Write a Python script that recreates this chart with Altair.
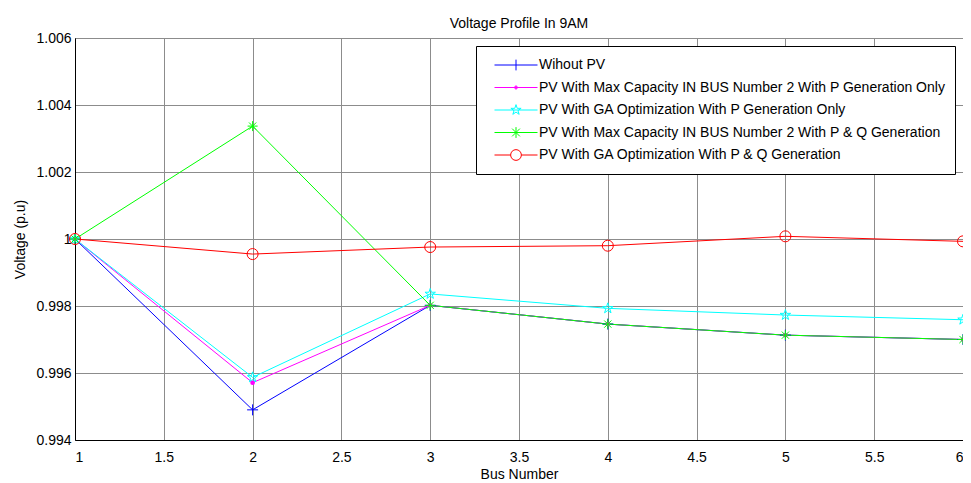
import altair as alt
import pandas as pd

# ---------------- data ----------------
bus = [1, 2, 3, 4, 5, 6]
series_names = [
    "Wihout PV",
    "PV With Max Capacity IN BUS Number 2 With P Generation Only",
    "PV With GA Optimization With P Generation Only",
    "PV With Max Capacity IN BUS Number 2 With P & Q Generation",
    "PV With GA Optimization With P & Q Generation",
]
v_without = [1.0, 0.99490, 0.99802, 0.99746, 0.99713, 0.99700]
v_max_p = [1.0, 0.99571, 0.99802, 0.99746, 0.99713, 0.99700]
v_ga_p = [1.0, 0.99587, 0.99836, 0.99793, 0.99773, 0.99759]
v_max_pq = [1.0, 1.00337, 0.99802, 0.99746, 0.99713, 0.99700]
v_ga_pq = [1.0, 0.99955, 0.99976, 0.99980, 1.00008, 0.99993]
x_ticks = [1, 1.5, 2, 2.5, 3, 3.5, 4, 4.5, 5, 5.5, 6]
y_ticks = [0.994, 0.996, 0.998, 1.0, 1.002, 1.004, 1.006]

colors = ["#0000ff", "#ff00ff", "#00ffff", "#00ff00", "#ff0000"]
all_values = [v_without, v_max_p, v_ga_p, v_max_pq, v_ga_pq]

rows = []
for i, (name, vals) in enumerate(zip(series_names, all_values)):
    for b, v in zip(bus, vals):
        rows.append({"bus": b, "voltage": v, "series": name, "order": i})
df = pd.DataFrame(rows)

# ---------------- marker paths ----------------
def fmt(v):
    return f"{v:.4f}".rstrip("0").rstrip(".")

def plus(s):
    return f"M{fmt(-s)},0H{fmt(s)}M0,{fmt(-s)}V{fmt(s)}"

def asterisk(s):
    d = s * 0.72
    return (f"M{fmt(-s)},0H{fmt(s)}M0,{fmt(-s)}V{fmt(s)}"
            f"M{fmt(-d)},{fmt(-d)}L{fmt(d)},{fmt(d)}M{fmt(-d)},{fmt(d)}L{fmt(d)},{fmt(-d)}")

def star(s):
    outer = [(0, -1), (0.951, -0.309), (0.588, 0.809), (-0.588, 0.809), (-0.951, -0.309)]
    inner = [(0.2245, -0.309), (0.363, 0.118), (0, 0.382), (-0.363, 0.118), (-0.2245, -0.309)]
    pts = []
    for o, n in zip(outer, inner):
        pts.append(o)
        pts.append(n)
    return "M" + " L".join(f"{fmt(x * s)},{fmt(y * s)}" for x, y in pts) + "Z"

def circ(r):
    return f"M{fmt(-r)},0A{fmt(r)},{fmt(r)} 0 1,0 {fmt(r)},0A{fmt(r)},{fmt(r)} 0 1,0 {fmt(-r)},0"

plot_shapes = [plus(1), "circle", star(1), asterisk(1), "circle"]
plot_sizes = [121, 22, 121, 100, 121]
plot_filled = [False, True, False, False, False]

ms = 0.25
legend_shapes = [
    "M-1,0H1" + f"M0,{fmt(-ms)}V{fmt(ms)}",
    "M-1,0H1" + circ(0.07) + circ(0.045) + circ(0.02),
    "M-1,0H1" + star(ms),
    "M-1,0H1" + asterisk(ms),
    f"M-1,0H{fmt(-ms)}M{fmt(ms)},0H1" + circ(ms),
]

FONT = "Liberation Sans"

x_enc = alt.X("bus:Q", title="Bus Number",
              scale=alt.Scale(domain=[1, 6], nice=False, zero=False),
              axis=alt.Axis(values=x_ticks, format="~g"))
y_enc = alt.Y("voltage:Q", title="Voltage (p.u)",
              scale=alt.Scale(domain=[0.994, 1.006], nice=False, zero=False),
              axis=alt.Axis(values=y_ticks, format="~g"))

legend_cfg = alt.Legend(
    title=None, orient="none", legendX=401, legendY=8, direction="vertical",
    symbolSize=1849, symbolStrokeWidth=1, symbolOpacity=1,
    symbolFillColor="transparent",
    clipHeight=20, rowPadding=2.5, padding=9,
    symbolOffset=9, labelOffset=1,
    labelFont=FONT, labelFontSize=14, labelColor="#000", labelLimit=600,
    strokeColor="#000", fillColor="#fff", cornerRadius=0,
)

layers = []
for i, name in enumerate(series_names):
    ln = alt.Chart(df).transform_filter(alt.datum.series == name).mark_line(
        strokeWidth=1, color=colors[i],
    ).encode(x=x_enc, y=y_enc, order=alt.Order("bus:Q"))
    layers.append(ln)
for i, name in enumerate(series_names):
    pts = alt.Chart(df).transform_filter(alt.datum.series == name).mark_point(
        shape=plot_shapes[i], size=plot_sizes[i], filled=plot_filled[i],
        strokeWidth=1, opacity=1, color=colors[i],
    ).encode(x=x_enc, y=y_enc)
    layers.append(pts)

legend_layer = alt.Chart(df).mark_point(opacity=0, filled=False, strokeWidth=1).encode(
    x=x_enc, y=y_enc,
    color=alt.Color("series:N", scale=alt.Scale(domain=series_names, range=colors),
                    legend=legend_cfg),
    shape=alt.Shape("series:N", scale=alt.Scale(domain=series_names, range=legend_shapes),
                    legend=legend_cfg),
)
layers.append(legend_layer)

chart = alt.layer(*layers).properties(
    width=888, height=402,
    title=alt.TitleParams("Voltage Profile In 9AM", font=FONT, fontSize=14,
                          fontWeight="normal", color="#000", offset=0, anchor="middle"),
    autosize=alt.AutoSizeParams(type="none"),
    padding={"left": 67, "top": 30, "right": 0, "bottom": 47},
).configure_view(
    stroke="#000", strokeWidth=1,
).configure_axis(
    labelFont=FONT, labelFontSize=14, labelColor="#000",
    titleFont=FONT, titleFontSize=14, titleFontWeight="normal", titleColor="#000",
    grid=True, gridColor="#8c8c8c", gridWidth=1, gridOpacity=1,
    domain=True, domainColor="#000",
    ticks=False,
).configure_axisX(
    labelPadding=10, titlePadding=3,
).configure_axisY(
    labelPadding=4, titlePadding=8,
)

chart.save("out.html", embed_options={"renderer": "svg", "actions": False})
